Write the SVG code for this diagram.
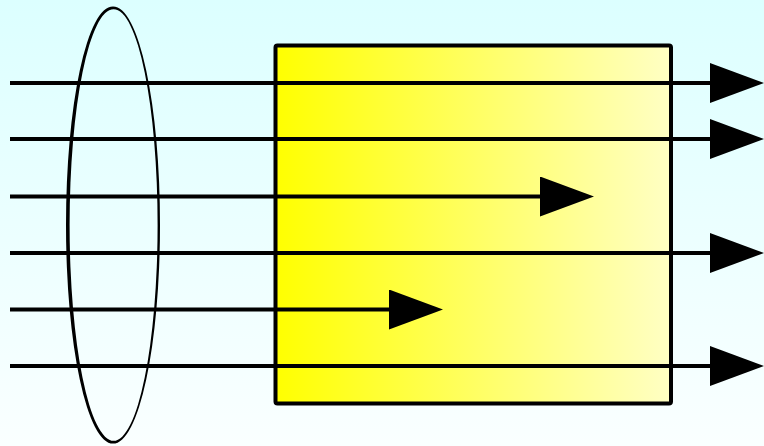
<svg xmlns="http://www.w3.org/2000/svg" width="764" height="446" viewBox="0 0 764 446">
<defs>
<linearGradient id="bg" x1="0" y1="0" x2="0" y2="1">
<stop offset="0" stop-color="#DCFFFF"/>
<stop offset="1" stop-color="#FAFFFF"/>
</linearGradient>
<linearGradient id="box" x1="0" y1="0" x2="1" y2="0">
<stop offset="0" stop-color="#FFFF00"/>
<stop offset="1" stop-color="#FFFFC4"/>
</linearGradient>
<marker id="ah" markerUnits="userSpaceOnUse" markerWidth="54" markerHeight="40" refX="0" refY="20" orient="auto" viewBox="0 0 54 40">
<polygon points="0,0 54,20 0,40" fill="#000"/>
</marker>
<style>
.ln{stroke:#000;stroke-width:4;fill:none}
</style>
</defs>
<rect x="0" y="0" width="764" height="446" fill="url(#bg)"/>
<g id="box-node">
<rect x="275.5" y="45.5" width="395.5" height="358" rx="2" fill="url(#box)" stroke="#000" stroke-width="4"/>
</g>
<g id="ellipse-node">
<path fill="#000" fill-rule="evenodd" d="M66 225A47 218.5 0 1 0 160 225A47 218.5 0 1 0 66 225Z M69.6 225A44 215.8 0 1 0 157.6 225A44 215.8 0 1 0 69.6 225Z"/>
</g>
<g id="connectors">
<path class="ln" d="M10 83H710" marker-end="url(#ah)"/>
<path class="ln" d="M10 139H710" marker-end="url(#ah)"/>
<path class="ln" d="M10 196.5H540" marker-end="url(#ah)"/>
<path class="ln" d="M10 253H710" marker-end="url(#ah)"/>
<path class="ln" d="M10 309.5H389" marker-end="url(#ah)"/>
<path class="ln" d="M10 366H710" marker-end="url(#ah)"/>
</g>
</svg>
